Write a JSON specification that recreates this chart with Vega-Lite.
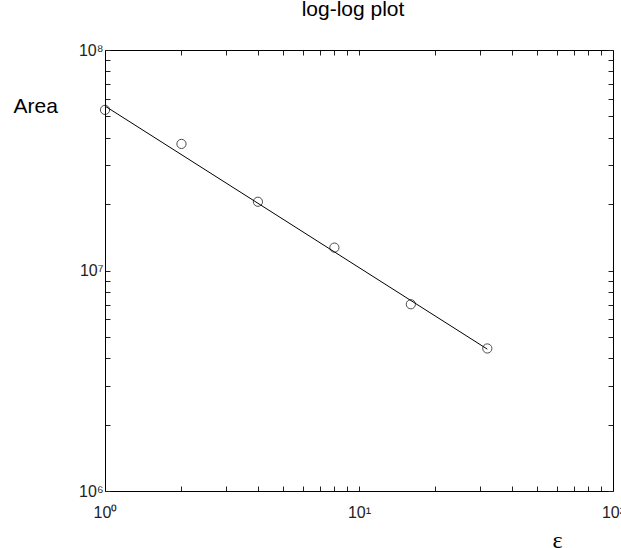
{
  "$schema": "https://vega.github.io/schema/vega-lite/v6.json",
  "width": 508,
  "height": 441,
  "autosize": "none",
  "padding": {"left": 105, "top": 50, "right": 8, "bottom": 57},
  "background": "white",
  "title": {"text": "log-log plot", "anchor": "middle", "dx": -6, "offset": 22, "fontSize": 21, "font": "Liberation Sans", "fontWeight": "normal", "color": "black"},
  "config": {"view": {"stroke": null}, "axis": {"grid": false, "domainColor": "black", "domainWidth": 1, "tickColor": "#222", "tickSize": -5, "tickWidth": 1, "labelFont": "Liberation Sans", "labelFontSize": 16, "labelColor": "#222"}},
  "datasets": {
    "fit": [{"eps": 1, "area": 55700000}, {"eps": 32, "area": 4400000}],
    "obs": [
      {"eps": 1, "area": 53500000},
      {"eps": 2, "area": 37500000},
      {"eps": 4, "area": 20500000},
      {"eps": 8, "area": 12700000},
      {"eps": 16, "area": 7030000},
      {"eps": 32, "area": 4430000}
    ]
  },
  "layer": [
    {
      "data": {"name": "fit"},
      "mark": {"type": "line", "color": "black", "strokeWidth": 1},
      "encoding": {
        "x": {"field": "eps", "type": "quantitative", "scale": {"type": "log", "domain": [1, 100], "nice": false},
          "axis": {"orient": "bottom", "values": [1,2,3,4,5,6,7,8,9,10,20,30,40,50,60,70,80,90,100],
            "labelExpr": "datum.value == 1 ? '10⁰' : datum.value == 10 ? '10¹' : datum.value == 100 ? '10²' : ''",
            "labelPadding": 18, "labelFlush": false, "labelOverlap": false,
            "title": "ε", "titleFont": "Liberation Serif", "titleFontSize": 24, "titleFontWeight": "normal", "titleColor": "black",
            "titleX": 452, "titleY": 56, "titleAlign": "center", "titleBaseline": "alphabetic"}},
        "y": {"field": "area", "type": "quantitative", "scale": {"type": "log", "domain": [1000000, 100000000], "nice": false},
          "axis": {"orient": "left", "values": [1000000,2000000,3000000,4000000,5000000,6000000,7000000,8000000,9000000,10000000,20000000,30000000,40000000,50000000,60000000,70000000,80000000,90000000,100000000],
            "labelExpr": "datum.value == 1000000 ? '10⁶' : datum.value == 10000000 ? '10⁷' : datum.value == 100000000 ? '10⁸' : ''",
            "labelPadding": 7, "labelOverlap": false, "labelFlush": false,
            "title": "Area", "titleAngle": 0, "titleFont": "Liberation Sans", "titleFontSize": 21, "titleFontWeight": "normal", "titleColor": "black",
            "titleX": -92, "titleY": 62, "titleAlign": "left", "titleBaseline": "alphabetic"}}
      }
    },
    {
      "data": {"name": "obs"},
      "mark": {"type": "point", "shape": "circle", "filled": false, "color": "black", "size": 85, "strokeWidth": 1},
      "encoding": {
        "x": {"field": "eps", "type": "quantitative", "scale": {"type": "log", "domain": [1, 100], "nice": false},
          "axis": {"orient": "top", "values": [1,2,3,4,5,6,7,8,9,10,20,30,40,50,60,70,80,90,100], "labels": false, "title": null}},
        "y": {"field": "area", "type": "quantitative", "scale": {"type": "log", "domain": [1000000, 100000000], "nice": false},
          "axis": {"orient": "right", "values": [1000000,2000000,3000000,4000000,5000000,6000000,7000000,8000000,9000000,10000000,20000000,30000000,40000000,50000000,60000000,70000000,80000000,90000000,100000000], "labels": false, "title": null}}
      }
    }
  ],
  "resolve": {"axis": {"x": "independent", "y": "independent"}}
}
